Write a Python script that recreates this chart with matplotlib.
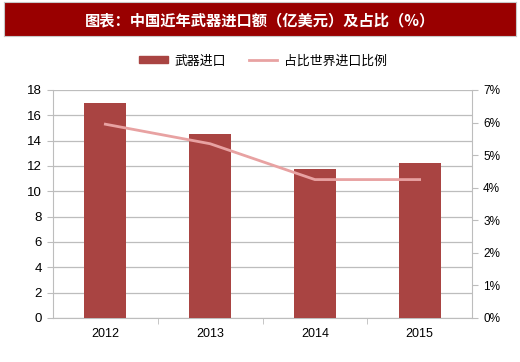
import matplotlib.pyplot as plt
import matplotlib.patches as mpatches
from matplotlib.ticker import FuncFormatter
import numpy as np

plt.rcParams['font.family'] = ['Noto Sans CJK SC', 'DejaVu Sans']

# === Data ===
years = ['2012', '2013', '2014', '2015']
imports = [17.0, 14.5, 11.8, 12.2]          # 亿美元
share = [5.95, 5.35, 4.25, 4.25]             # %

title = '图表：中国近年武器进口额（亿美元）及占比（%）'
bar_label = '武器进口'
line_label = '占比世界进口比例'

bar_color = '#A94442'
line_color = '#E8A2A2'
grid_color = '#BDBDBD'

# === Figure ===
fig = plt.figure(figsize=(5.2, 3.62), dpi=100)

# banner
banner = fig.add_axes([0.008, 0.9, 0.984, 0.094])
banner.set_facecolor('#990000')
banner.set_xticks([])
banner.set_yticks([])
for s in banner.spines.values():
    s.set_color('#C8C8C8')
banner.text(0.5, 0.47, title, color='white', fontsize=11, fontweight='bold',
            ha='center', va='center', transform=banner.transAxes)

ax = fig.add_axes([53 / 520, 1 - 318 / 362, (472 - 53) / 520, (318 - 90) / 362])
x = np.arange(len(years))
ax.bar(x, imports, width=0.4, color=bar_color, zorder=3)
ax.set_xlim(-0.5, len(years) - 0.5)
ax.set_ylim(0, 18)
ax.set_yticks(np.arange(0, 19, 2))
ax.set_xticks(x)
ax.set_xticklabels(years)
ax.set_xticks(np.arange(0.5, len(years) - 0.5, 1), minor=True)
ax.tick_params(axis='x', which='major', length=0, pad=7, labelsize=9)
ax.tick_params(axis='x', which='minor', length=4, color=grid_color)
ax.tick_params(axis='y', length=4, color=grid_color, labelsize=9.5, pad=4)
ax.grid(axis='y', color=grid_color, linewidth=0.9, zorder=0)
for s in ['top', 'right']:
    ax.spines[s].set_visible(False)
ax.spines['left'].set_color(grid_color)
ax.spines['bottom'].set_color(grid_color)
for lbl in ax.get_xticklabels() + ax.get_yticklabels():
    lbl.set_family('Liberation Sans')

ax2 = ax.twinx()
ax2.plot(x, share, color=line_color, linewidth=2, zorder=4)
ax2.set_ylim(0, 7)
ax2.set_yticks(np.arange(0, 8, 1))
ax2.yaxis.set_major_formatter(FuncFormatter(lambda v, p: f'{int(v)}%'))
ax2.tick_params(axis='y', length=4, color=grid_color, labelsize=8.5, pad=4)
for s in ['top', 'left', 'bottom']:
    ax2.spines[s].set_visible(False)
ax2.spines['right'].set_color(grid_color)
for lbl in ax2.get_yticklabels():
    lbl.set_family('Liberation Sans')

# legend
handles = [mpatches.Patch(color=bar_color, label=bar_label),
           plt.Line2D([0], [0], color=line_color, linewidth=2, label=line_label)]
fig.legend(handles=handles, loc='center', bbox_to_anchor=(263 / 520, 1 - 61 / 362),
           ncol=2, frameon=False, fontsize=9.3, handlelength=2.2, handleheight=0.45,
           columnspacing=1.8, handletextpad=0.5)

fig.savefig('out.png', dpi=100)
